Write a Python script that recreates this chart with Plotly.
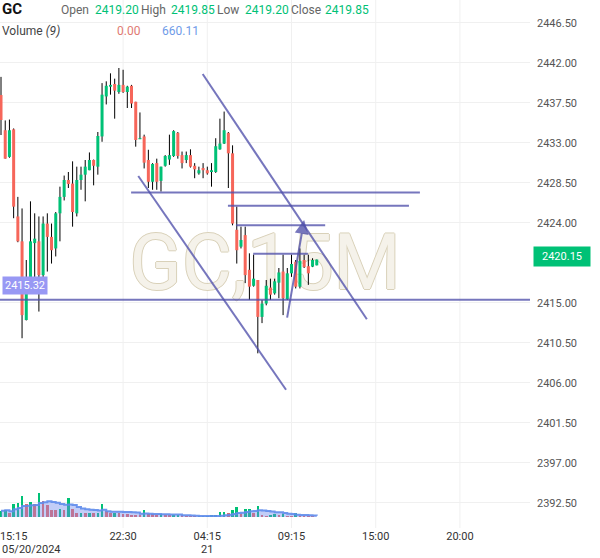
import plotly.graph_objects as go
import pandas as pd

# ---------------- data (15-minute GC candles) ----------------
opens = [2438.36, 2434.4, 2431.4, 2434.5, 2424.7, 2421.9, 2413.05, 2416.05, 2421.7, 2421.9,
         2418.1, 2423.9, 2422.4, 2421.1, 2425.05, 2426.9, 2428.8, 2428.4, 2425.05, 2428.8,
         2429.4, 2429.9, 2431.05, 2430.3, 2433.7, 2438.2, 2439.3, 2439.6, 2438.7, 2439.5,
         2438.7, 2439.4, 2437.6, 2433.4, 2433.7, 2431.05, 2428.6, 2430.7, 2428.7, 2430.4,
         2431.1, 2431.5, 2434.1, 2431.6, 2431.05, 2431.6, 2430.4, 2429.55, 2430.15, 2429.9,
         2429.7, 2429.7, 2432.25, 2432.9, 2434.1, 2431.8, 2423.2, 2421.3, 2422.6, 2418.7,
         2416.9, 2417.55, 2413.4, 2414.9, 2416.7, 2416.05, 2417.25, 2418.5, 2415.4, 2418.3,
         2419.6, 2416.8, 2419.8, 2419.1, 2419.05, 2419.20]
highs = [2440.4, 2435.5, 2435.6, 2434.6, 2426.9, 2425.6, 2419.8, 2426.4, 2425.05, 2424.7,
         2424.7, 2425.05, 2423.9, 2425.2, 2428.05, 2429.3, 2429.7, 2430.9, 2430.3, 2430.3,
         2431.05, 2431.9, 2431.1, 2434.2, 2439.7, 2439.9, 2440.8, 2440.2, 2441.4, 2441.2,
         2439.4, 2439.5, 2437.6, 2436.4, 2433.9, 2432.2, 2430.7, 2431.2, 2430.3, 2431.6,
         2433.9, 2434.4, 2434.2, 2432.0, 2432.0, 2432.25, 2430.7, 2430.3, 2430.7, 2430.3,
         2430.7, 2433.5, 2435.7, 2436.5, 2434.2, 2432.7, 2425.8, 2423.55, 2423.55, 2420.55,
         2420.4, 2417.55, 2415.3, 2417.55, 2417.7, 2417.7, 2418.9, 2420.4, 2418.9, 2420.4,
         2419.8, 2421.1, 2420.4, 2420.4, 2420.0, 2419.85]
lows = [2433.86, 2431.2, 2431.3, 2424.5, 2421.8, 2411.0, 2413.0, 2416.0, 2416.4, 2414.0,
        2416.4, 2418.5, 2419.4, 2420.2, 2421.9, 2426.5, 2427.9, 2423.55, 2424.7, 2427.7,
        2426.4, 2429.9, 2428.2, 2429.4, 2433.1, 2437.3, 2438.4, 2435.7, 2438.5, 2438.6,
        2436.9, 2436.9, 2432.55, 2433.4, 2430.1, 2427.9, 2427.7, 2427.7, 2427.5, 2430.3,
        2430.5, 2431.4, 2431.2, 2430.1, 2430.7, 2430.2, 2429.0, 2429.4, 2429.0, 2429.4,
        2428.05, 2429.6, 2432.2, 2432.85, 2427.9, 2423.7, 2419.4, 2421.1, 2417.2, 2415.3,
        2416.8, 2409.3, 2412.7, 2414.7, 2415.3, 2415.9, 2415.5, 2413.6, 2415.3, 2417.9,
        2416.6, 2416.6, 2418.9, 2417.0, 2419.0, 2419.20]
closes = [2435.55, 2431.2, 2434.4, 2425.8, 2421.9, 2413.6, 2416.05, 2421.9, 2422.2, 2418.1,
          2423.9, 2422.4, 2420.9, 2425.05, 2426.9, 2428.8, 2428.35, 2425.2, 2428.8, 2429.4,
          2430.3, 2431.05, 2430.4, 2433.75, 2438.4, 2439.4, 2439.5, 2438.85, 2439.5, 2438.7,
          2439.3, 2437.4, 2433.3, 2433.5, 2430.75, 2428.6, 2430.6, 2428.6, 2430.3, 2431.5,
          2431.6, 2434.3, 2431.5, 2430.7, 2431.6, 2430.3, 2430.0, 2429.9, 2429.9, 2429.55,
          2429.9, 2432.6, 2432.9, 2434.4, 2431.8, 2423.9, 2420.9, 2422.05, 2418.1, 2416.8,
          2417.7, 2413.4, 2414.9, 2416.9, 2415.9, 2417.4, 2418.4, 2415.5, 2418.3, 2419.35,
          2416.8, 2419.7, 2419.0, 2418.3, 2419.8, 2419.85]
volumes = [3090, 3580, 1960, 6520, 6860, 10290, 6520, 7350, 6370, 11760,
           7690, 6030, 3580, 3570, 3920, 3430, 9310, 4070, 1960, 2110,
           1960, 2110, 1810, 1960, 6370, 2790, 1960, 2110, 1810, 1620,
           1320, 1130, 980, 740, 3430, 1320, 1230, 980, 1320, 740,
           640, 650, 690, 640, 490, 340, 250, 340, 390, 490,
           590, 640, 2450, 2460, 1960, 3430, 4900, 1620, 3920, 4020,
           1960, 5390, 1130, 490, 1130, 1470, 1130, 1230, 490, 440,
           1960, 490, 440, 390, 340, 0]

time_tick_idx = [3, 29, 49, 69, 89, 109]
time_tick_labels = ["15:15", "22:30", "04:15", "09:15", "15:00", "20:00"]
date_label_idx = [49]
date_label_text = ["21"]
first_date_text = "05/20/2024"
price_ticks = [2392.50, 2397.00, 2401.50, 2406.00, 2410.50, 2415.00,
               2424.00, 2428.50, 2433.00, 2437.50, 2442.00, 2446.50]
last_price = 2420.15
vol_ma_display = 660.11
level_price = 2415.32

# user drawings (bar index, price)
hline_x0 = [30.9, 53.9, 55.8, 59.9]
hline_x1 = [99.5, 96.9, 77.0, 72.9]
hline_p = [2427.4, 2425.9, 2423.7, 2420.5]
trend_x0 = [47.9, 32.6]
trend_p0 = [2440.73, 2429.25]
trend_x1 = [86.9, 67.7]
trend_p1 = [2413.13, 2405.2]
arrow_from = (67.9, 2413.15)
arrow_to = (72.0, 2424.3)

# ---------------- styling ----------------
UP = "#00c176"
DOWN = "#f6665a"
DRAW = "rgba(80,80,170,0.78)"
FONT = "Roboto"

W, H = 600, 558
ML, MR, MT, MB = 0, 70, 0, 30
PW, PH = W - ML - MR, H - MT - MB
x_range = [-0.24, 125.65]
y_range = [2389.65, 2449.05]
vol_range = [-5390, 253330]


def pyp(pix):
    return 1 - pix / PH


n = len(opens)
idx = list(range(n))

fig = go.Figure()

# watermark (behind everything)
fig.add_trace(go.Scatter(
    x=[(x_range[0] + x_range[1]) / 2], y=[y_range[0] + (y_range[1] - y_range[0]) * 0.49],
    mode="text", text=["GC,15M"], hoverinfo="skip", showlegend=False,
    textfont=dict(family=FONT, size=77, color="#f5f2ea",
                  shadow="1px 0 0 #d9d1b9, -1px 0 0 #d9d1b9, 0 1px 0 #d9d1b9, 0 -1px 0 #d9d1b9"),
))

# wicks
wx, wy = [], []
for i in idx:
    wx += [i, i, None]
    wy += [lows[i], highs[i], None]
fig.add_trace(go.Scatter(x=wx, y=wy, mode="lines", line=dict(color="#000000", width=1),
                         hoverinfo="skip", showlegend=False))

# bodies
for up in (True, False):
    bx, by = [], []
    for i in idx:
        o, c = opens[i], closes[i]
        if (c >= o) != up:
            continue
        lo, hi = min(o, c), max(o, c)
        if hi - lo < 0.12:
            m = (hi + lo) / 2
            lo, hi = m - 0.06, m + 0.06
        bx += [i, i, None]
        by += [lo, hi, None]
    fig.add_trace(go.Scatter(x=bx, y=by, mode="lines",
                             line=dict(color=UP if up else DOWN, width=3),
                             hoverinfo="skip", showlegend=False))

# volume
vol_colors = [UP if (i == 0 or volumes[i] >= volumes[i - 1]) else DOWN for i in idx]
fig.add_trace(go.Bar(x=idx, y=volumes, marker=dict(color=vol_colors, line=dict(width=0)),
                     width=0.62, yaxis="y2", showlegend=False, hoverinfo="skip"))
vol_ma = pd.Series(volumes).rolling(9, min_periods=1).mean()
fig.add_trace(go.Scatter(x=idx, y=vol_ma, mode="lines", line=dict(color="rgba(95,140,235,0.9)", width=2, shape="hv"),
                         fill="tozeroy", fillcolor="rgba(110,135,235,0.42)", yaxis="y2",
                         showlegend=False, hoverinfo="skip"))

shapes = []
for gx in time_tick_idx[1:]:
    shapes.append(dict(type="line", xref="x", yref="paper", x0=gx, x1=gx, y0=0, y1=1,
                       line=dict(color="#f0f0f0", width=1), layer="below"))
shapes.append(dict(type="line", xref="paper", yref="y", x0=0, x1=1, y0=level_price, y1=level_price,
                   line=dict(color=DRAW, width=2)))
for x0, x1, p in zip(hline_x0, hline_x1, hline_p):
    shapes.append(dict(type="line", xref="x", yref="y", x0=x0, x1=x1, y0=p, y1=p,
                       line=dict(color=DRAW, width=2)))
for x0, p0, x1, p1 in zip(trend_x0, trend_p0, trend_x1, trend_p1):
    shapes.append(dict(type="line", xref="x", yref="y", x0=x0, x1=x1, y0=p0, y1=p1,
                       line=dict(color=DRAW, width=2)))

ann = []
# header
hdr_y = pyp(10)
ann.append(dict(text="<b>GC</b>", x=0, y=pyp(9), font=dict(size=15, color="#111")))
items = [("Open", 59, "#666"), (f"{opens[-1]:.2f}", 93, UP), ("High", 139, "#666"),
         (f"{highs[-1]:.2f}", 169, UP), ("Low", 215, "#666"), (f"{lows[-1]:.2f}", 243, UP),
         ("Close", 289, "#666"), (f"{closes[-1]:.2f}", 323, UP)]
for t, px, col in items:
    ann.append(dict(text=t, x=px / PW, y=hdr_y, font=dict(size=12, color=col)))
ann.append(dict(text="Volume <i>(9)</i>", x=0, y=pyp(31), font=dict(size=12, color="#444")))
ann.append(dict(text=f"{volumes[-1]:.2f}", x=115 / PW, y=pyp(31), font=dict(size=12, color="#e07a72")))
ann.append(dict(text=f"{vol_ma_display:.2f}", x=160 / PW, y=pyp(31), font=dict(size=12, color="#6f9be8")))
for a in ann:
    a.update(xref="paper", yref="paper", xanchor="left", yanchor="middle", showarrow=False)
    a["font"]["family"] = FONT

# date row
ann.append(dict(text=first_date_text, xref="paper", yref="paper", x=0, y=pyp(549), xanchor="left",
                yanchor="middle", showarrow=False, font=dict(family=FONT, size=11, color="#333")))
for di, dt in zip(date_label_idx, date_label_text):
    ann.append(dict(text=dt, xref="x", yref="paper", x=di, y=pyp(549), xanchor="center",
                    yanchor="middle", showarrow=False, font=dict(family=FONT, size=11, color="#333")))

# level label box
ann.append(dict(text=f"{level_price:.2f}", xref="paper", yref="y", x=0.004, y=level_price,
                xanchor="left", yanchor="bottom", yshift=5, showarrow=False, bgcolor="#9898f4",
                borderpad=2, font=dict(family=FONT, size=11, color="#ffffff")))
# last price box
ann.append(dict(text=f"{last_price:.2f}", xref="paper", yref="y", x=1, y=last_price,
                xanchor="left", yanchor="middle", xshift=3, showarrow=False, bgcolor=UP,
                borderpad=3, width=50, font=dict(family=FONT, size=11, color="#ffffff")))
# arrow drawing
ann.append(dict(text="", x=arrow_to[0], y=arrow_to[1], ax=arrow_from[0], ay=arrow_from[1],
                xref="x", yref="y", axref="x", ayref="y", showarrow=True, arrowhead=2,
                arrowsize=1.4, arrowwidth=2, arrowcolor=DRAW, standoff=0))

fig.update_layout(
    width=W, height=H, margin=dict(l=ML, r=MR, t=MT, b=MB),
    paper_bgcolor="white", plot_bgcolor="white", showlegend=False, bargap=0,
    xaxis=dict(range=x_range, tickvals=time_tick_idx, ticktext=time_tick_labels, showgrid=False,
               zeroline=False, showline=False, ticks="", ticklabeloverflow="allow",
               tickfont=dict(family=FONT, size=11, color="#333")),
    yaxis=dict(range=y_range, side="right", tickvals=price_ticks,
               ticktext=[f"{p:.2f}" for p in price_ticks], showgrid=True, gridcolor="#f0f0f0",
               zeroline=False, showline=False, ticks="", ticklabelstandoff=6,
               tickfont=dict(family=FONT, size=11, color="#555")),
    yaxis2=dict(range=vol_range, overlaying="y", visible=False),
    shapes=shapes, annotations=ann,
)

fig.write_html("out.html")
